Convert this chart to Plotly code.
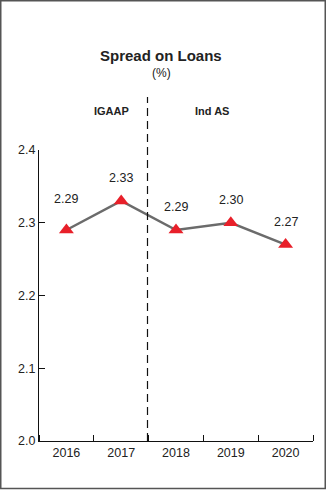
import plotly.graph_objects as go

years = ["2016", "2017", "2018", "2019", "2020"]
spread = [2.29, 2.33, 2.29, 2.30, 2.27]
labels = ["2.29", "2.33", "2.29", "2.30", "2.27"]
label_shift = [22, 14, 14, 14, 14]

xpos = list(range(len(years)))

W, H = 326, 490
L, R, T, B = 39, 13, 150, 49
pw, ph = W - L - R, H - T - B

def px(x):
    return (x - L) / pw

def py(y):
    return (H - B - y) / ph

FONT = "Liberation Sans, Arial, sans-serif"

fig = go.Figure()
fig.add_trace(go.Scatter(
    x=xpos, y=spread, mode="lines+markers",
    line=dict(color="#6b6b6b", width=2.5),
    marker=dict(symbol="triangle-up", size=13, color="#e8202a"),
    hoverinfo="skip", showlegend=False,
))

annotations = []
for x, y, t, s in zip(xpos, spread, labels, label_shift):
    annotations.append(dict(x=x, y=y, xref="x", yref="y", text=t, showarrow=False, yshift=s,
                            yanchor="bottom", font=dict(size=12.5, color="#222", family=FONT)))

annotations += [
    dict(x=px(161), y=py(45), xref="paper", yref="paper", text="<b>Spread on Loans</b>",
         showarrow=False, font=dict(size=15, color="#222", family=FONT)),
    dict(x=px(161), y=py(64), xref="paper", yref="paper", text="(%)",
         showarrow=False, font=dict(size=12, color="#222", family=FONT)),
    dict(x=px(92), y=py(103), xref="paper", yref="paper", text="<b>IGAAP</b>",
         showarrow=False, font=dict(size=11, color="#222", family=FONT)),
    dict(x=px(231), y=py(103), xref="paper", yref="paper", text="<b>Ind AS</b>",
         showarrow=False, font=dict(size=11, color="#222", family=FONT)),
]

shapes = [
    dict(type="line", xref="paper", yref="paper", x0=px(147.5), x1=px(147.5),
         y0=0, y1=py(97), line=dict(color="#111", width=1.2, dash="8px,5px")),
    dict(type="rect", xref="paper", yref="paper", x0=px(0.75), x1=px(325.25),
         y0=py(488.5), y1=py(0.75), line=dict(color="#555", width=1.5)),
]

fig.update_layout(
    width=W, height=H, margin=dict(l=L, r=R, t=T, b=B),
    paper_bgcolor="white", plot_bgcolor="white",
    font=dict(family=FONT, size=12, color="#222"),
    annotations=annotations, shapes=shapes,
    xaxis=dict(range=[-0.5, len(years) - 0.5], tickmode="array", tickvals=xpos, ticktext=years,
               ticks="", showline=True, linecolor="#111", linewidth=1.2,
               minor=dict(tick0=0.5, dtick=1, ticks="inside", ticklen=6, tickcolor="#111",
                          showgrid=False),
               showgrid=False, zeroline=False, tickfont=dict(size=12.5), fixedrange=True),
    yaxis=dict(range=[2.0, 2.4], dtick=0.1, tickformat=".1f", ticks="inside", ticklen=6,
               tickcolor="#111", showline=True, linecolor="#111", linewidth=1.2,
               showgrid=False, zeroline=False, tickfont=dict(size=12.5)),
)

fig.write_html("out.html")
